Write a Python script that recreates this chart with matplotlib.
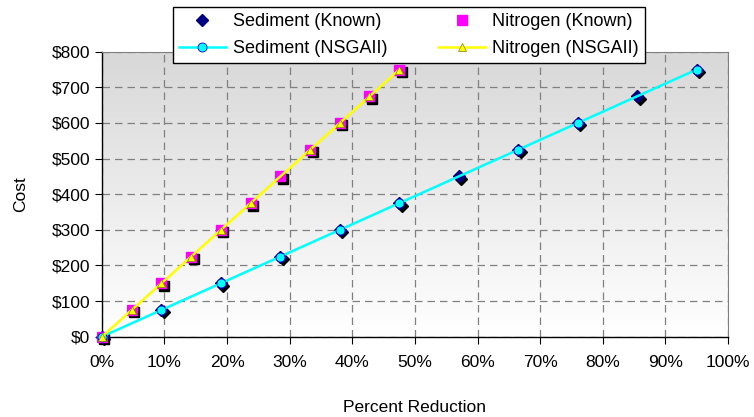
import numpy as np
import matplotlib
matplotlib.use("Agg")
import matplotlib.pyplot as plt
import matplotlib.transforms as mtransforms
from matplotlib.ticker import FuncFormatter, MultipleLocator

plt.rcParams['font.family'] = ['Liberation Sans', 'DejaVu Sans']

# costs and reductions
cost = [0, 75, 150, 225, 300, 375, 450, 525, 600, 675, 750]
sed_known = [0, 9.5, 19, 28.5, 38, 47.5, 57, 66.5, 76, 85.5, 95]
nit_known = [0, 4.75, 9.5, 14.25, 19, 23.75, 28.5, 33.25, 38, 42.75, 47.5]

sed_nsga_x = [0, 9.5, 19, 28.5, 38, 47.5, 66.5, 76, 95]
sed_nsga_y = [0, 75, 150, 225, 300, 375, 525, 600, 750]
nit_nsga_x = [0, 4.75, 9.5, 14.25, 19, 23.75, 33.25, 38, 42.75, 47.5]
nit_nsga_y = [0, 75, 150, 225, 300, 375, 525, 600, 675, 750]

fig = plt.figure(figsize=(7.54, 4.17), dpi=100)
ax = fig.add_axes([0.135, 0.1926, 0.8305, 0.6834])

# gray-to-white background gradient
grad = np.linspace(0, 1, 256).reshape(-1, 1)
ax.imshow(grad, extent=[0, 1, 0, 1], transform=ax.transAxes, aspect='auto',
          cmap=matplotlib.colors.LinearSegmentedColormap.from_list('bg', ['#ffffff', '#d8d8d8']),
          origin='lower', zorder=0)

ax.set_xlim(0, 100)
ax.set_ylim(0, 800)
ax.grid(True, color='#808080', linestyle=(0, (6, 4)), linewidth=0.9, zorder=1)
ax.set_axisbelow(True)

# drop shadows behind the known points
shadow = mtransforms.offset_copy(ax.transData, fig=fig, x=2.5, y=-2.5, units='dots')
ax.plot(sed_known, cost, linestyle='none', marker='D', markersize=6.5,
        color='black', transform=shadow, zorder=2, clip_on=False)
ax.plot(nit_known, cost, linestyle='none', marker='s', markersize=7,
        color='black', transform=shadow, zorder=2, clip_on=False)

ax.plot(sed_known, cost, linestyle='none', marker='D', markersize=6.5,
        color='#000080', markeredgecolor='#000080', zorder=3, clip_on=False,
        label='Sediment (Known)')
ax.plot(nit_known, cost, linestyle='none', marker='s', markersize=7,
        color='#ff00ff', markeredgecolor='#ff00ff', zorder=3, clip_on=False,
        label='Nitrogen (Known)')
ax.plot(sed_nsga_x, sed_nsga_y, color='#00ffff', linewidth=1.8, marker='o',
        markersize=6.5, markeredgecolor='#0000cc', markeredgewidth=0.6, zorder=4,
        clip_on=False, label='Sediment (NSGAII)')
ax.plot(nit_nsga_x, nit_nsga_y, color='#ffff00', linewidth=1.8, marker='^',
        markersize=5.5, markeredgecolor='#808000', markeredgewidth=0.5, zorder=4,
        clip_on=False, label='Nitrogen (NSGAII)')

ax.xaxis.set_major_locator(MultipleLocator(10))
ax.yaxis.set_major_locator(MultipleLocator(100))
ax.xaxis.set_major_formatter(FuncFormatter(lambda v, p: f'{v:.0f}%'))
ax.yaxis.set_major_formatter(FuncFormatter(lambda v, p: f'${v:.0f}'))
ax.tick_params(labelsize=12.5, length=5, width=0.8, colors='black')
ax.tick_params(axis='x', pad=8)

for side in ['top', 'right']:
    ax.spines[side].set_color('#808080')
for side in ['left', 'bottom']:
    ax.spines[side].set_color('black')
    ax.spines[side].set_linewidth(1.0)

ax.set_xlabel('Percent Reduction', fontsize=12.5, labelpad=22)
ax.set_ylabel('Cost', fontsize=12.5, labelpad=17)

# two rows: known on top, NSGAII below
handles, labels = ax.get_legend_handles_labels()
order = [0, 2, 1, 3]
leg = fig.legend([handles[i] for i in order], [labels[i] for i in order],
                 ncol=2, loc='upper center', bbox_to_anchor=(0.5424, 0.984),
                 fontsize=13, frameon=True, fancybox=False, edgecolor='black',
                 framealpha=1, borderaxespad=0, borderpad=0.35, handlelength=2.6,
                 columnspacing=2.8, handletextpad=0.4, labelspacing=0.55)
leg.get_frame().set_linewidth(1.0)
leg.set_zorder(10)

fig.savefig('out.png', dpi=100)
